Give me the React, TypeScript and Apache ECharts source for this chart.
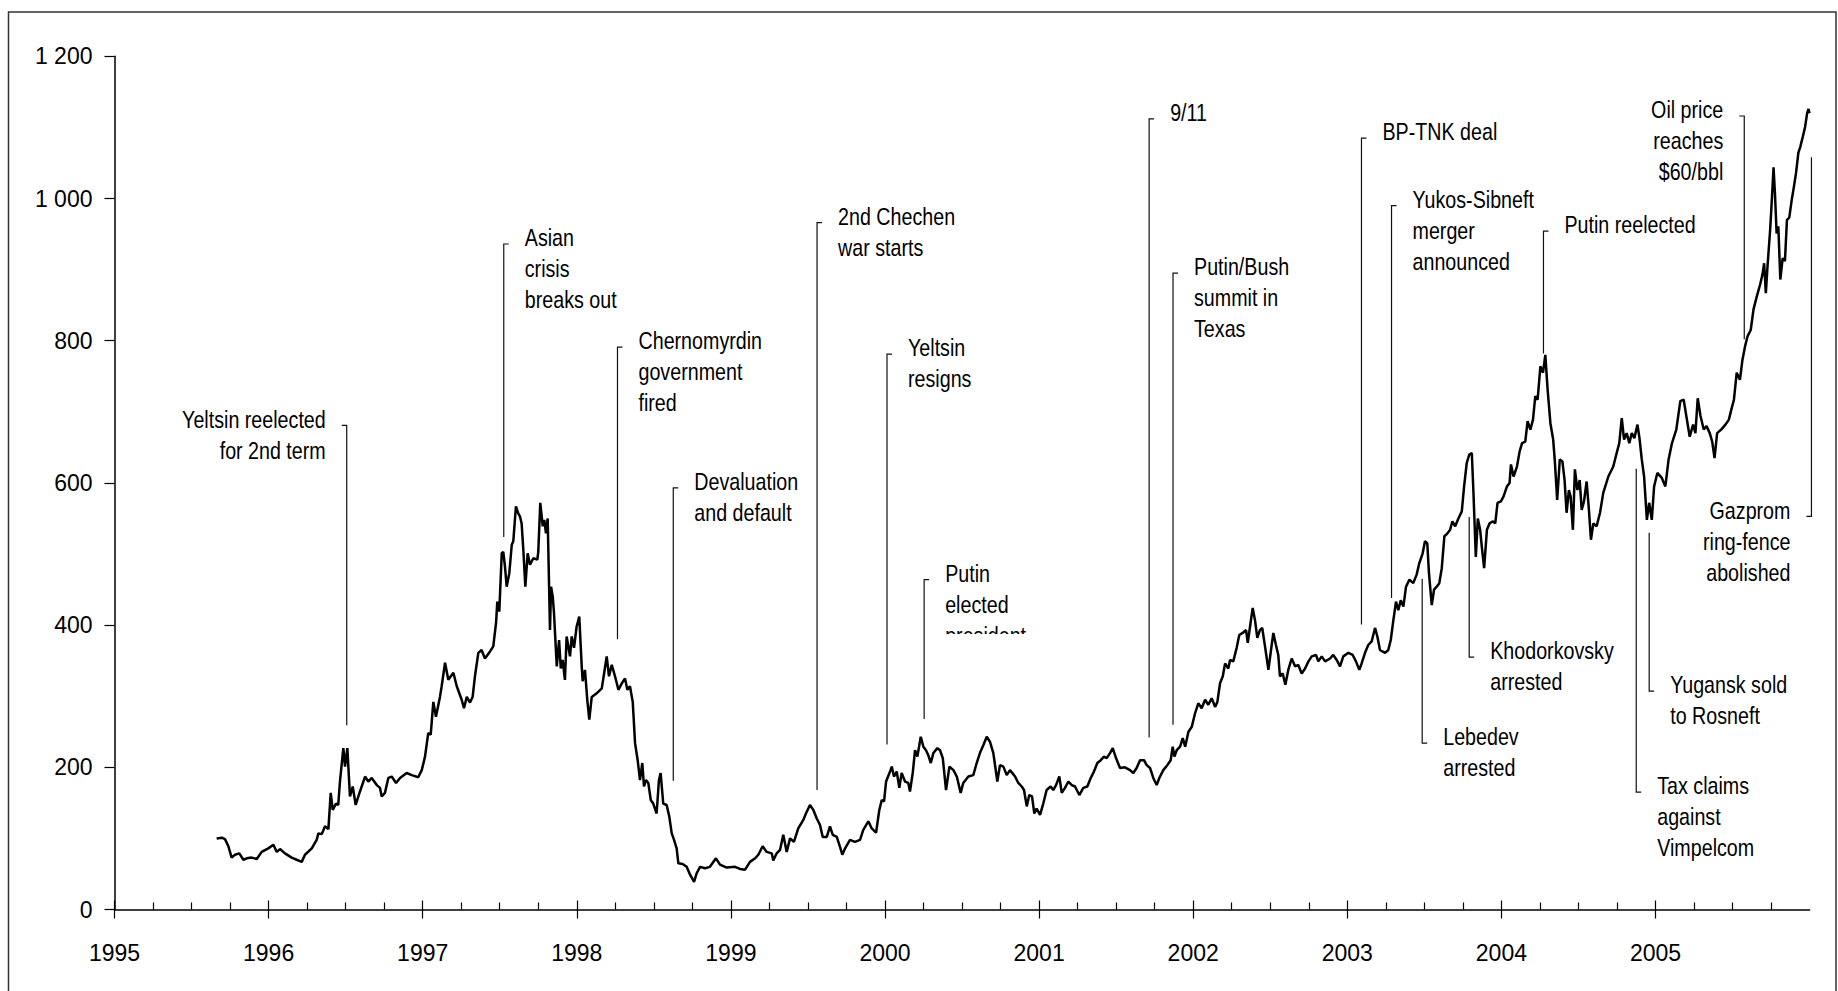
import React, { useEffect, useRef } from 'react';
import * as echarts from 'echarts';

const SANS = "'Liberation Sans', Arial, sans-serif";

// x-axis years (ticks and labels)
const yearTicks = [1995, 1996, 1997, 1998, 1999, 2000, 2001, 2002, 2003, 2004, 2005];

// RTS index, [decimal year, index points]
const rts1995to1998: [number, number][] = [
  [1995.663, 100], [1995.696, 101], [1995.717, 99], [1995.739, 89], [1995.760, 73], [1995.782, 77], [1995.810, 79],
  [1995.836, 70], [1995.858, 72], [1995.890, 73], [1995.923, 71], [1995.955, 81], [1995.998, 86], [1996.031, 91],
  [1996.053, 81], [1996.074, 85], [1996.106, 79], [1996.150, 73], [1996.182, 70], [1996.215, 67], [1996.236, 77],
  [1996.280, 86], [1996.312, 98], [1996.323, 107], [1996.345, 106], [1996.366, 117], [1996.388, 113], [1996.403, 164],
  [1996.416, 140], [1996.437, 149], [1996.452, 147], [1996.463, 180], [1996.485, 227], [1996.496, 201], [1996.511, 227],
  [1996.528, 159], [1996.546, 173], [1996.565, 147], [1996.593, 166], [1996.626, 187], [1996.647, 180], [1996.669, 185],
  [1996.702, 175], [1996.723, 171], [1996.734, 159], [1996.755, 164], [1996.777, 185], [1996.799, 187], [1996.827, 178],
  [1996.853, 185], [1996.896, 192], [1996.929, 189], [1996.971, 186], [1996.994, 196], [1997.015, 215], [1997.036, 248],
  [1997.052, 246], [1997.069, 292], [1997.086, 271], [1997.112, 299], [1997.123, 314], [1997.145, 347], [1997.166, 323],
  [1997.199, 333], [1997.221, 314], [1997.253, 295], [1997.268, 283], [1997.286, 299], [1997.307, 291], [1997.324, 299],
  [1997.339, 328], [1997.361, 361], [1997.382, 365], [1997.404, 353], [1997.437, 363], [1997.458, 370], [1997.476, 403],
  [1997.484, 433], [1997.497, 419], [1997.513, 501], [1997.523, 503], [1997.534, 482], [1997.545, 454], [1997.562, 473],
  [1997.578, 513], [1997.588, 518], [1997.605, 567], [1997.620, 557], [1997.631, 553], [1997.642, 543], [1997.653, 506],
  [1997.666, 454], [1997.681, 501], [1997.696, 485], [1997.718, 494], [1997.744, 492], [1997.750, 503], [1997.763, 572],
  [1997.779, 539], [1997.789, 548], [1997.800, 529], [1997.811, 550], [1997.826, 393], [1997.833, 454], [1997.844, 440],
  [1997.852, 417], [1997.870, 342], [1997.885, 379], [1997.896, 339], [1997.908, 351], [1997.923, 323], [1997.934, 384],
  [1997.945, 370], [1997.956, 356], [1997.967, 384], [1997.982, 368], [1997.999, 398], [1998.016, 412], [1998.032, 342],
  [1998.038, 321], [1998.053, 337], [1998.068, 295], [1998.081, 267],
];

const rts1998to2000: [number, number][] = [
  [1998.097, 299], [1998.129, 304], [1998.162, 311], [1998.177, 332], [1998.194, 356], [1998.209, 328], [1998.227, 344],
  [1998.248, 328], [1998.270, 309], [1998.292, 318], [1998.313, 325], [1998.328, 309], [1998.345, 314], [1998.363, 292],
  [1998.378, 234], [1998.395, 210], [1998.410, 182], [1998.425, 206], [1998.436, 173], [1998.449, 182], [1998.464, 178],
  [1998.480, 154], [1998.496, 149], [1998.518, 135], [1998.533, 182], [1998.544, 192], [1998.561, 149], [1998.583, 147],
  [1998.600, 131], [1998.616, 107], [1998.631, 98], [1998.648, 86], [1998.659, 65], [1998.687, 64], [1998.713, 60],
  [1998.735, 49], [1998.761, 39], [1998.778, 51], [1998.800, 60], [1998.832, 58], [1998.864, 60], [1998.903, 72],
  [1998.929, 63], [1998.973, 59], [1999.027, 60], [1999.059, 57], [1999.092, 56], [1999.124, 67], [1999.157, 72],
  [1999.178, 77], [1999.206, 89], [1999.232, 81], [1999.265, 79], [1999.275, 69], [1999.297, 79], [1999.319, 84],
  [1999.340, 105], [1999.362, 81], [1999.384, 100], [1999.409, 95], [1999.437, 114], [1999.470, 126], [1999.487, 135],
  [1999.513, 147], [1999.535, 140], [1999.557, 128], [1999.578, 119], [1999.596, 102], [1999.622, 102], [1999.643, 117],
  [1999.661, 105], [1999.687, 102], [1999.708, 88], [1999.723, 77], [1999.741, 86], [1999.773, 98], [1999.805, 95],
  [1999.838, 98], [1999.859, 112], [1999.892, 124], [1999.914, 114], [1999.942, 108], [1999.963, 140], [1999.979, 154],
  [1999.994, 152], [2000.007, 180], [2000.033, 194], [2000.044, 201], [2000.058, 187], [2000.076, 194], [2000.093, 171],
  [2000.108, 192], [2000.130, 180], [2000.151, 178], [2000.162, 166], [2000.180, 192], [2000.195, 224], [2000.210, 215],
  [2000.232, 243], [2000.249, 229], [2000.266, 224], [2000.281, 217], [2000.297, 206], [2000.314, 220], [2000.340, 227],
  [2000.357, 224], [2000.375, 213], [2000.396, 168], [2000.418, 201], [2000.444, 196], [2000.466, 187], [2000.491, 164],
  [2000.508, 178], [2000.541, 187], [2000.573, 189], [2000.595, 206], [2000.616, 220], [2000.638, 231], [2000.660, 243],
  [2000.681, 236], [2000.703, 220], [2000.729, 180], [2000.746, 203],
];

const rts2000to2003: [number, number][] = [
  [2000.768, 201], [2000.790, 189], [2000.811, 196], [2000.844, 187], [2000.865, 178], [2000.887, 173], [2000.902, 168],
  [2000.920, 145], [2000.936, 161], [2000.954, 159], [2000.969, 135], [2000.984, 142], [2001.006, 133], [2001.027, 149],
  [2001.049, 168], [2001.075, 173], [2001.092, 168], [2001.110, 175], [2001.131, 187], [2001.147, 164], [2001.168, 171],
  [2001.190, 180], [2001.212, 175], [2001.233, 173], [2001.261, 161], [2001.287, 171], [2001.313, 173], [2001.335, 185],
  [2001.356, 194], [2001.378, 206], [2001.400, 210], [2001.421, 215], [2001.439, 213], [2001.460, 220], [2001.478, 227],
  [2001.499, 213], [2001.525, 199], [2001.557, 200], [2001.590, 196], [2001.611, 192], [2001.633, 199], [2001.655, 210],
  [2001.681, 210], [2001.698, 203], [2001.720, 199], [2001.741, 185], [2001.763, 175], [2001.780, 185], [2001.806, 196],
  [2001.832, 203], [2001.854, 210], [2001.867, 229], [2001.878, 215], [2001.893, 224], [2001.915, 229], [2001.932, 241],
  [2001.948, 229], [2001.969, 250], [2001.991, 257], [2002.012, 276], [2002.033, 290], [2002.055, 283], [2002.077, 295],
  [2002.098, 288], [2002.120, 297], [2002.142, 285], [2002.157, 292], [2002.174, 318], [2002.192, 328], [2002.207, 346],
  [2002.228, 339], [2002.239, 351], [2002.260, 349], [2002.282, 368], [2002.299, 386], [2002.321, 389], [2002.343, 393],
  [2002.354, 375], [2002.369, 398], [2002.386, 424], [2002.401, 407], [2002.416, 382], [2002.433, 393], [2002.448, 396],
  [2002.466, 370], [2002.488, 337], [2002.505, 365], [2002.520, 389], [2002.537, 372], [2002.552, 358], [2002.563, 328],
  [2002.581, 332], [2002.598, 316], [2002.617, 337], [2002.639, 353], [2002.661, 342], [2002.682, 344], [2002.704, 332],
  [2002.726, 339], [2002.748, 349], [2002.769, 356], [2002.797, 358], [2002.812, 349], [2002.834, 356], [2002.856, 349],
  [2002.888, 353], [2002.909, 358], [2002.931, 351], [2002.953, 342], [2002.974, 356], [2003.007, 361], [2003.035, 358],
  [2003.056, 349], [2003.078, 337], [2003.093, 346], [2003.115, 361], [2003.136, 372], [2003.158, 377], [2003.180, 396],
  [2003.195, 384], [2003.212, 365], [2003.245, 361], [2003.266, 365], [2003.282, 379], [2003.299, 407], [2003.316, 433],
  [2003.331, 421], [2003.347, 435], [2003.364, 426], [2003.381, 454], [2003.403, 464],
];

const rts2003to2004: [number, number][] = [
  [2003.428, 459], [2003.450, 471], [2003.467, 487], [2003.489, 501], [2003.504, 518], [2003.519, 515], [2003.530, 473],
  [2003.548, 428], [2003.563, 450], [2003.580, 454], [2003.597, 459], [2003.613, 480], [2003.630, 525], [2003.650, 529],
  [2003.667, 534], [2003.682, 546], [2003.700, 539], [2003.721, 550], [2003.743, 560], [2003.758, 595], [2003.775, 628],
  [2003.792, 640], [2003.808, 642], [2003.818, 590], [2003.834, 496], [2003.847, 550], [2003.862, 534], [2003.873, 510],
  [2003.888, 480], [2003.906, 534], [2003.923, 543], [2003.945, 546], [2003.960, 543], [2003.975, 572], [2003.997, 574],
  [2004.014, 581], [2004.036, 595], [2004.053, 600], [2004.062, 626], [2004.079, 609], [2004.101, 623], [2004.118, 644],
  [2004.134, 656], [2004.155, 658], [2004.170, 687], [2004.188, 675], [2004.205, 689], [2004.220, 722], [2004.235, 717],
  [2004.253, 764], [2004.270, 755], [2004.285, 780], [2004.300, 731], [2004.318, 684], [2004.336, 661], [2004.346, 633],
  [2004.362, 576], [2004.379, 633], [2004.396, 630], [2004.410, 604], [2004.423, 558], [2004.438, 590], [2004.449, 581],
  [2004.464, 534], [2004.477, 619], [2004.493, 590], [2004.508, 604], [2004.521, 562], [2004.536, 574], [2004.553, 602],
  [2004.568, 562], [2004.581, 520], [2004.597, 543], [2004.618, 539], [2004.640, 558],
];

const rts2004to2006: [number, number][] = [
  [2004.661, 586], [2004.694, 609], [2004.726, 623], [2004.748, 642], [2004.765, 656], [2004.781, 691], [2004.796, 661],
  [2004.813, 670], [2004.830, 656], [2004.846, 670], [2004.863, 663], [2004.883, 682], [2004.896, 663], [2004.911, 633],
  [2004.926, 609], [2004.944, 548], [2004.959, 572], [2004.976, 548], [2004.991, 595], [2005.012, 614], [2005.041, 607],
  [2005.064, 595], [2005.085, 633], [2005.107, 656], [2005.135, 675], [2005.161, 715], [2005.183, 717], [2005.200, 694],
  [2005.222, 665], [2005.244, 682], [2005.259, 670], [2005.274, 719], [2005.292, 694], [2005.313, 675], [2005.331, 680],
  [2005.352, 670], [2005.368, 658], [2005.383, 635], [2005.400, 670], [2005.426, 675], [2005.454, 682], [2005.476, 689],
  [2005.492, 703], [2005.509, 717], [2005.527, 755], [2005.548, 745], [2005.564, 773], [2005.581, 792], [2005.597, 806],
  [2005.618, 815], [2005.636, 844], [2005.657, 862], [2005.679, 879], [2005.694, 893], [2005.705, 909], [2005.716, 867],
  [2005.727, 905], [2005.744, 956], [2005.755, 998], [2005.766, 1044], [2005.775, 1008], [2005.786, 951], [2005.797, 961],
  [2005.810, 886], [2005.825, 916], [2005.840, 912], [2005.853, 970], [2005.868, 973], [2005.884, 998], [2005.897, 1015],
  [2005.912, 1036], [2005.927, 1064], [2005.940, 1073], [2005.956, 1087], [2005.971, 1101], [2005.984, 1120],
  [2005.993, 1126], [2005.999, 1120],
];

// Events: leader at date, from bottom value to top value; 'end' is where the small tick/label sits
type Ev = { text: string[]; date: number; top: number; bottom: number; end: 'top' | 'bottom'; side: 'left' | 'right'; clipLast?: boolean };
const events: Ev[] = [
  { text: ['Yeltsin reelected', 'for 2nd term'], date: 1996.507, top: 681, bottom: 259, end: 'top', side: 'left' },
  { text: ['Asian', 'crisis', 'breaks out'], date: 1997.526, top: 936, bottom: 524, end: 'top', side: 'right' },
  { text: ['Chernomyrdin', 'government', 'fired'], date: 1998.264, top: 791, bottom: 380, end: 'top', side: 'right' },
  { text: ['Devaluation', 'and default'], date: 1998.626, top: 593, bottom: 181, end: 'top', side: 'right' },
  { text: ['2nd Chechen', 'war starts'], date: 1999.559, top: 966, bottom: 168, end: 'top', side: 'right' },
  { text: ['Yeltsin', 'resigns'], date: 2000.013, top: 781, bottom: 232, end: 'top', side: 'right' },
  { text: ['Putin', 'elected', 'president'], date: 2000.254, top: 464, bottom: 268, end: 'top', side: 'right', clipLast: true },
  { text: ['9/11'], date: 2001.714, top: 1112, bottom: 242, end: 'top', side: 'right' },
  { text: ['Putin/Bush', 'summit in', 'Texas'], date: 2001.869, top: 895, bottom: 260, end: 'top', side: 'right' },
  { text: ['BP-TNK deal'], date: 2003.092, top: 1085, bottom: 401, end: 'top', side: 'right' },
  { text: ['Yukos-Sibneft', 'merger', 'announced'], date: 2003.287, top: 990, bottom: 438, end: 'top', side: 'right' },
  { text: ['Putin reelected'], date: 2004.273, top: 954, bottom: 782, end: 'top', side: 'right' },
  { text: ['Lebedev', 'arrested'], date: 2003.486, top: 465, bottom: 234, end: 'bottom', side: 'right' },
  { text: ['Khodorkovsky', 'arrested'], date: 2003.791, top: 552, bottom: 355, end: 'bottom', side: 'right' },
  { text: ['Tax claims', 'against', 'Vimpelcom'], date: 2004.875, top: 620, bottom: 165, end: 'bottom', side: 'right' },
  { text: ['Yugansk sold', 'to Rosneft'], date: 2004.959, top: 530, bottom: 307, end: 'bottom', side: 'right' },
  { text: ['Oil price', 'reaches', '$60/bbl'], date: 2005.576, top: 1116, bottom: 802, end: 'top', side: 'left' },
  { text: ['Gazprom', 'ring-fence', 'abolished'], date: 2006.012, top: 1058, bottom: 553, end: 'bottom', side: 'left' },
];

const fmtY = (v: number) => (v >= 1000 ? `${Math.floor(v / 1000)} ${String(v % 1000).padStart(3, '0')}` : String(v));

export default function App() {
  const ref = useRef<HTMLDivElement>(null);
  useEffect(() => {
    if (!ref.current) return;
    const chart = echarts.init(ref.current, undefined, { renderer: 'svg' });
    const data = [...rts1995to1998, ...rts1998to2000, ...rts2000to2003, ...rts2003to2004, ...rts2004to2006];
    const tickStyle = { color: '#000', width: 1.2 };
    chart.setOption({
      animation: false,
      backgroundColor: '#fff',
      grid: { left: 114.5, right: 28.4, top: 56.3, bottom: 81.5, containLabel: false },
      xAxis: [
        {
          type: 'value', min: 1995, max: 2006, interval: 1, position: 'bottom',
          axisLine: { show: true, onZero: false, lineStyle: { color: '#000', width: 1.5 } },
          axisTick: { show: true, inside: true, length: 9, customValues: yearTicks, lineStyle: tickStyle },
          minorTick: { show: true, splitNumber: 4, length: 7, lineStyle: tickStyle },
          axisLabel: {
            customValues: yearTicks, formatter: (v: number) => String(v), margin: 32,
            fontSize: 23, fontFamily: SANS, color: '#000',
          },
          splitLine: { show: false }, minorSplitLine: { show: false },
        },
        {
          type: 'value', min: 1995, max: 2006, interval: 1, position: 'bottom',
          axisLine: { show: false, onZero: false },
          axisTick: { show: true, inside: false, length: 9, customValues: yearTicks, lineStyle: tickStyle },
          axisLabel: { show: false }, splitLine: { show: false },
        },
      ],
      yAxis: {
        type: 'value', min: 0, max: 1200, interval: 200,
        axisLine: { show: true, onZero: false, lineStyle: { color: '#000', width: 1.5 } },
        axisTick: { show: true, length: 10, lineStyle: tickStyle },
        axisLabel: { formatter: fmtY, margin: 22, fontSize: 23, fontFamily: SANS, color: '#000' },
        splitLine: { show: false },
      },
      series: [{
        type: 'line', data, xAxisIndex: 0, yAxisIndex: 0, showSymbol: false, symbol: 'none',
        lineStyle: { color: '#000', width: 2.5 }, z: 3,
      }],
    });

    const toPx = (d: number, v: number) => chart.convertToPixel({ xAxisIndex: 0, yAxisIndex: 0 }, [d, v]) as number[];
    const graphics: any[] = [
      { type: 'rect', shape: { x: 8.5, y: 12, width: 1827.5, height: 1000 }, style: { fill: 'none', stroke: '#333', lineWidth: 1.5 }, z: 0, silent: true },
    ];
    const TICK = 5, GAP = 21, LH = 31, NARROW_SCALE = 0.82;
    events.forEach((e) => {
      const [x, yTop] = toPx(e.date, e.top);
      const [, yBot] = toPx(e.date, e.bottom);
      const dir = e.side === 'right' ? 1 : -1;
      const yEnd = e.end === 'top' ? yTop : yBot;
      const pts = e.end === 'top'
        ? [[x + dir * TICK, yTop], [x, yTop], [x, yBot]]
        : [[x, yTop], [x, yBot], [x + dir * TICK, yBot]];
      graphics.push({ type: 'polyline', shape: { points: pts }, style: { stroke: '#111', lineWidth: 1.2, fill: 'none' }, z: 5, silent: true });
      const firstCenter = yEnd - 6;
      graphics.push({
        type: 'text', x: x + dir * GAP, y: firstCenter - LH / 2, scaleX: NARROW_SCALE, z: 6, silent: true,
        style: {
          text: e.text.join('\n'), fontFamily: SANS, fontSize: 24, lineHeight: LH, fill: '#000',
          textAlign: e.side === 'right' ? 'left' : 'right', textVerticalAlign: 'top',
        },
      });
      if (e.clipLast) {
        graphics.push({
          type: 'rect', shape: { x: x + GAP - 2, y: firstCenter + 2 * LH - 1.5, width: 120, height: 16 },
          style: { fill: '#fff' }, z: 7, silent: true,
        });
      }
    });
    chart.setOption({ graphic: graphics });
    return () => chart.dispose();
  }, []);
  return <div ref={ref} style={{ position: 'fixed', left: 0, top: 0, width: 1838, height: 991 }} />;
}
